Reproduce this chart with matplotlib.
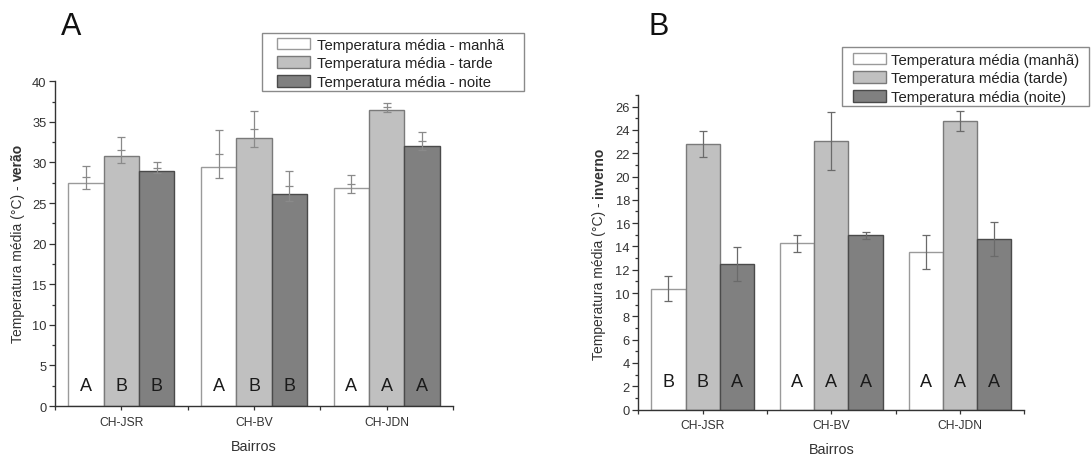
import matplotlib
matplotlib.use("Agg")
import matplotlib.pyplot as plt
from matplotlib.patches import Patch, Rectangle
import numpy as np

plt.rcParams['font.family'] = ['Liberation Sans', 'DejaVu Sans']

# ---------------- data ----------------
categories = ["CH-JSR", "CH-BV", "CH-JDN"]

# Panel A (verão)
a_labels = ["Temperatura média - manhã", "Temperatura média - tarde", "Temperatura média - noite"]
a_manha = [27.5, 29.5, 26.8]
a_tarde = [30.75, 33.0, 36.45]
a_noite = [29.0, 26.1, 32.0]
a_err_center_manha = [28.15, 31.05, 27.35]
a_err_center_tarde = [31.5, 34.15, 36.8]
a_err_center_noite = [29.35, 27.05, 32.6]
a_err_manha = [1.45, 2.95, 1.05]
a_err_tarde = [1.6, 2.25, 0.55]
a_err_noite = [0.65, 1.85, 1.1]
a_letters_manha = ["A", "A", "A"]
a_letters_tarde = ["B", "B", "A"]
a_letters_noite = ["B", "B", "A"]

# Panel B (inverno)
b_labels = ["Temperatura média (manhã)", "Temperatura média (tarde)", "Temperatura média (noite)"]
b_manha = [10.38, 14.27, 13.52]
b_tarde = [22.82, 23.02, 24.77]
b_noite = [12.52, 14.95, 14.61]
b_err_manha = [1.05, 0.75, 1.5]
b_err_tarde = [1.1, 2.5, 0.85]
b_err_noite = [1.45, 0.3, 1.45]
b_letters_manha = ["B", "A", "A"]
b_letters_tarde = ["B", "A", "A"]
b_letters_noite = ["A", "A", "A"]

# ---------------- style ----------------
fills = ["#ffffff", "#c0c0c0", "#808080"]
edges = ["#9a9a9a", "#7a7a7a", "#4a4a4a"]
axis_col = "#333333"
W, H = 1091, 456

fig = plt.figure(figsize=(W / 100, H / 100), dpi=100)


def px_axes(left, right, top, bottom):
    return fig.add_axes([left / W, 1 - bottom / H, (right - left) / W, (bottom - top) / H])


def style_axes(ax, ymax, ymajor, yminor):
    for s in ["top", "right"]:
        ax.spines[s].set_visible(False)
    for s in ["left", "bottom"]:
        ax.spines[s].set_color(axis_col)
        ax.spines[s].set_linewidth(1.0)
    ax.set_xlim(-0.5, 2.5)
    ax.set_ylim(0, ymax)
    ax.set_xticks(range(len(categories)))
    ax.set_xticklabels(categories, fontsize=8.7, color="#333333")
    ax.set_xticks([-0.5, 0.5, 1.5, 2.5], minor=True)
    ax.set_yticks(np.arange(0, ymax + 0.01, ymajor))
    ax.set_yticks(np.arange(0, ymax + 0.01, yminor), minor=True)
    ax.tick_params(axis="both", which="both", direction="out", colors=axis_col,
                   labelcolor="#333333", width=0.9)
    ax.tick_params(axis="y", which="major", length=4, labelsize=9.3, pad=2)
    ax.tick_params(axis="y", which="minor", length=2.5)
    ax.tick_params(axis="x", which="major", length=3, pad=4)
    ax.tick_params(axis="x", which="minor", length=3)
    ax.set_xlabel("Bairros", fontsize=10.4, color="#333333", labelpad=8)


def draw_bars(ax, series, errs, centers, letters, letter_y, err_col, midmark):
    x = np.arange(len(categories))
    w = 0.266
    for i, (vals, e, c, lets) in enumerate(zip(series, errs, centers, letters)):
        xi = x + (i - 1) * w
        ax.bar(xi, vals, width=w, color=fills[i], edgecolor=edges[i], linewidth=1.0, zorder=2)
        ax.errorbar(xi, c, yerr=e, fmt="_" if midmark else "none", markersize=6,
                    ecolor=err_col, color=err_col, elinewidth=0.9, capsize=3,
                    capthick=0.9, markeredgewidth=0.9, zorder=3)
        for xx, lt in zip(xi, lets):
            ax.text(xx, letter_y, lt, ha="center", va="center", fontsize=13, color="#1a1a1a", zorder=4)


def ylabel_two(x_px, y_bottom_px, normal, bold, size=10):
    t1 = fig.text(x_px / W, 1 - y_bottom_px / H, normal, rotation=90, rotation_mode="anchor",
                  ha="left", va="baseline", fontsize=size, color="#333333")
    fig.canvas.draw()
    bb = t1.get_window_extent()
    fig.text(x_px / W, bb.y1 / fig.bbox.height + 0.002, bold, rotation=90, rotation_mode="anchor",
             ha="left", va="baseline", fontsize=size, fontweight="bold", color="#333333")


def legend_box(labels, frame, content_xy, textpad):
    # frame: (left, top, right, bottom) px ; content_xy: (left, top) px of entries
    l, t, r, b = frame
    fig.patches.append(Rectangle((l / W, 1 - b / H), (r - l) / W, (b - t) / H,
                                 transform=fig.transFigure, facecolor="white",
                                 edgecolor="#8a8a8a", linewidth=1.0, zorder=5))
    handles = [Patch(facecolor=fills[i], edgecolor=edges[i], linewidth=1.0) for i in range(3)]
    leg = fig.legend(handles, labels, loc="upper left",
                     bbox_to_anchor=(content_xy[0] / W, 1 - content_xy[1] / H),
                     fontsize=10.7, frameon=False,
                     handlelength=2.2, handleheight=0.86, handletextpad=textpad,
                     labelspacing=0.3, borderpad=0, borderaxespad=0)
    leg.set_zorder(6)
    for tx in leg.get_texts():
        tx.set_color("#222222")


# ---------------- Panel A ----------------
axA = px_axes(55, 453, 82.3, 407)
style_axes(axA, 40, 5, 2.5)
draw_bars(axA, [a_manha, a_tarde, a_noite], [a_err_manha, a_err_tarde, a_err_noite],
          [a_err_center_manha, a_err_center_tarde, a_err_center_noite],
          [a_letters_manha, a_letters_tarde, a_letters_noite], 2.5, "#8a8a8a", True)

# ---------------- Panel B ----------------
axB = px_axes(638.3, 1024.4, 96, 410.5)
style_axes(axB, 27, 2, 1)
draw_bars(axB, [b_manha, b_tarde, b_noite], [b_err_manha, b_err_tarde, b_err_noite],
          [b_manha, b_tarde, b_noite],
          [b_letters_manha, b_letters_tarde, b_letters_noite], 2.4, "#6a6a6a", False)

# panel letters
fig.text(61 / W, 1 - 35 / H, "A", fontsize=22, ha="left", va="baseline", color="#111111")
fig.text(648 / W, 1 - 35 / H, "B", fontsize=22, ha="left", va="baseline", color="#111111")

# legends
legend_box(a_labels, (261.7, 34, 524, 91.7), (277.3, 38.5), 0.5)
legend_box(b_labels, (841.7, 48.3, 1089, 106.7), (853.3, 53.5), 0.35)

# y labels (normal + bold part)
ylabel_two(22, 343, "Temperatura média (°C) - ", "verão")
ylabel_two(603, 360, "Temperatura média (°C) - ", "inverno")

fig.savefig("out.png", dpi=100)
